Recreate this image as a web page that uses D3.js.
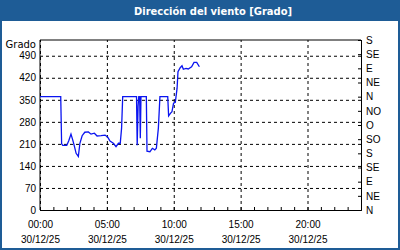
<!DOCTYPE html>
<html>
<head>
<meta charset="utf-8">
<script src="https://cdn.jsdelivr.net/npm/d3@7"></script>
<style>
  body { margin: 0; background: #fff; }
  svg { display: block; }
</style>
</head>
<body>
<div id="chart"></div>
<script>
// data
var day = "2025-12-30";
var times = ["00:00", "01:33", "01:37", "01:42", "02:00", "02:09", "02:19", "02:27", "02:33", "02:42",
  "02:52", "02:59", "03:09", "03:21", "03:37", "03:49", "04:04", "04:16", "04:34", "04:52",
  "05:04", "05:14", "05:29", "05:41", "05:52", "06:00", "06:06", "06:11", "07:13", "07:16",
  "07:20", "07:23", "07:27", "07:30", "07:33", "07:57", "08:00", "08:13", "08:24", "08:35",
  "08:42", "08:51", "08:58", "09:33", "09:37", "09:45", "09:52", "09:59", "10:07", "10:15",
  "10:19", "10:29", "10:37", "10:43", "10:55", "11:05", "11:20", "11:31", "11:43", "11:55"];
var direction = [360, 360, 210, 205, 205, 220, 241, 222, 206, 180,
  170, 212, 236, 247, 248, 241, 244, 235, 236, 238,
  231, 219, 212, 201, 212, 212, 260, 360, 360, 206,
  330, 360, 360, 228, 360, 360, 187, 185, 196, 191,
  196, 260, 360, 360, 299, 307, 312, 339, 342, 387,
  439, 452, 458, 447, 450, 448, 455, 469, 469, 455];
var degreeTicks = [0, 70, 140, 210, 280, 350, 420, 490];
var compassTicks = [0, 45, 90, 135, 180, 225, 270, 315, 360, 405, 450, 495, 540];
var compassLabels = ["N", "NE", "E", "SE", "S", "SO", "O", "NO", "N", "NE", "E", "SE", "S"];

var W = 400, H = 250;
var margin = { top: 40, right: 39, bottom: 40, left: 40 },
  width = W - margin.left - margin.right,
  height = H - margin.top - margin.bottom;

var parse = d3.timeParse("%Y-%m-%d %H:%M");
var data = times.map(function (t, i) {
  return { date: parse(day + " " + t), value: direction[i] };
});

var svg = d3.select("#chart").append("svg")
  .attr("width", W)
  .attr("height", H)
  .style("font-family", "'DejaVu Sans', sans-serif")
  .style("font-size", "10px");

// frame + title bar
svg.append("rect").attr("x", 1).attr("y", 1).attr("width", W - 2).attr("height", H - 2)
  .attr("fill", "#fff").attr("stroke", "#1e5c96").attr("stroke-width", 2);
svg.append("rect").attr("x", 0).attr("y", 0).attr("width", W).attr("height", 21)
  .attr("fill", "#1e5c96");
svg.append("text")
  .attr("x", 213).attr("y", 15)
  .attr("text-anchor", "middle")
  .attr("fill", "#fff")
  .style("font-weight", "bold")
  .style("font-size", "11px")
  .attr("textLength", 158)
  .attr("lengthAdjust", "spacingAndGlyphs")
  .text("Dirección del viento [Grado]");

var g = svg.append("g")
  .attr("transform", "translate(" + margin.left + "," + margin.top + ")");

var x = d3.scaleTime()
  .domain([parse(day + " 00:00"), d3.timeDay.offset(parse(day + " 00:00"), 1)])
  .range([0, width]);
var y = d3.scaleLinear().domain([0, 540]).range([height, 0]);

// horizontal dashed grid + left labels
var yAxis = g.append("g")
  .call(d3.axisLeft(y).tickValues(degreeTicks).tickSize(-width).tickPadding(4));
yAxis.select(".domain").remove();
yAxis.selectAll(".tick line").attr("stroke", "#000").attr("stroke-dasharray", "3,3");
yAxis.selectAll(".tick text").attr("fill", "#000").style("font-size", "10px");

g.append("text")
  .attr("x", -4).attr("y", 4.5)
  .attr("text-anchor", "end")
  .attr("dy", "0.32em")
  .attr("fill", "#000")
  .text("Grado");

// vertical dashed grid
var xGrid = g.append("g")
  .attr("transform", "translate(0," + height + ")")
  .call(d3.axisBottom(x).ticks(d3.timeHour.every(5)).tickSize(-height).tickFormat(""));
xGrid.select(".domain").remove();
xGrid.selectAll(".tick line").attr("stroke", "#000").attr("stroke-dasharray", "3,3");

// hourly minor ticks (inside)
var xMinor = g.append("g")
  .attr("transform", "translate(0," + height + ")")
  .call(d3.axisBottom(x).ticks(d3.timeHour.every(1)).tickSize(-3).tickFormat(""));
xMinor.select(".domain").attr("stroke", "#000");

// bottom labels: two lines
var xLab = g.append("g")
  .attr("transform", "translate(0," + height + ")")
  .call(d3.axisBottom(x).ticks(d3.timeHour.every(5)).tickSize(0).tickPadding(11)
    .tickFormat(function (d) { return ""; }));
xLab.select(".domain").remove();
xLab.selectAll(".tick").each(function (d) {
  var t = d3.select(this).select("text").attr("fill", "#000");
  t.append("tspan").attr("x", 0).attr("dy", "0.71em").text(d3.timeFormat("%H:%M")(d));
  t.append("tspan").attr("x", 0).attr("dy", "1.5em").text(d3.timeFormat("%d/%m/%y")(d));
});
xLab.selectAll(".tick").filter(function (d) { return d >= x.domain()[1]; }).remove();

// right compass axis
var yRight = g.append("g")
  .attr("transform", "translate(" + width + ",0)")
  .call(d3.axisRight(y).tickValues(compassTicks).tickSize(-3).tickPadding(5)
    .tickFormat(function (d, i) { return compassLabels[i]; }));
yRight.select(".domain").attr("stroke", "#000");
yRight.selectAll(".tick line").attr("stroke", "#000");
yRight.selectAll(".tick text").attr("fill", "#000").style("font-size", "10px");

// left axis line and top border
g.append("line").attr("x1", 0).attr("x2", 0).attr("y1", 0).attr("y2", height).attr("stroke", "#000");
g.append("line").attr("x1", 0).attr("x2", width).attr("y1", 0).attr("y2", 0).attr("stroke", "#000");

// the series
var line = d3.line()
  .x(function (d) { return x(d.date); })
  .y(function (d) { return y(d.value); });

g.append("path")
  .datum(data)
  .attr("fill", "none")
  .attr("stroke", "#0a14f0")
  .attr("stroke-width", 1.3)
  .attr("d", line);
</script>
</body>
</html>
